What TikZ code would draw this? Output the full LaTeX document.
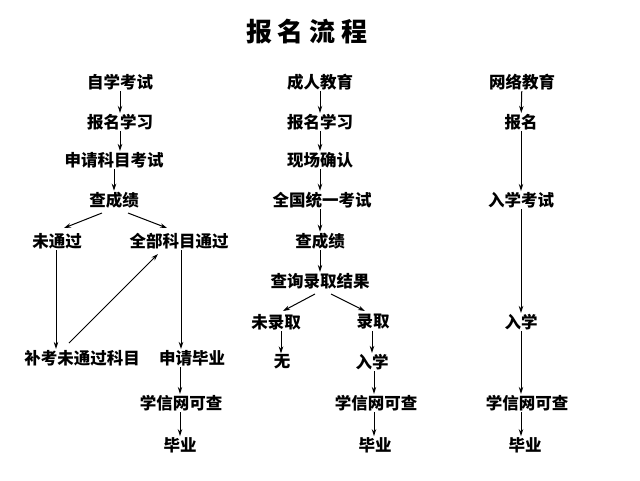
\documentclass[tikz,border=0pt]{standalone}
\usepackage{fontspec}
\setmainfont{Noto Sans CJK SC}[BoldFont={Noto Sans CJK SC Black}]
\usetikzlibrary{arrows.meta}
\begin{document}
\begin{tikzpicture}[x=1pt,y=-1pt,
  t/.style={font=\bfseries\fontsize{16.5}{18}\selectfont,inner sep=1pt},
  ar/.style={draw,line width=1pt,-{Stealth[length=7pt,width=4.5pt]}}]
\useasboundingbox[fill=white] (0,0) rectangle (640,480);
\node[font=\bfseries\fontsize{26}{28}\selectfont] (title) at (307,32) {报\ 名\ 流\ 程};
% column 1
\node[t] (a1) at (120,82) {自学考试};
\node[t] (a2) at (120,122) {报名学习};
\node[t] (a3) at (114,160) {申请科目考试};
\node[t] (a4) at (114,200) {查成绩};
\node[t] (a5) at (57,241) {未通过};
\node[t] (a6) at (179,241) {全部科目通过};
\node[t] (a7) at (82,358) {补考未通过科目};
\node[t] (a8) at (192,358) {申请毕业};
\node[t] (a9) at (181,403) {学信网可查};
\node[t] (a10) at (180,445) {毕业};
\draw[ar] (a1) -- (a2);
\draw[ar] (a2.south -| 120,0) -- (a3.north -| 120,0);
\draw[ar] (a3) -- (a4);
\draw[ar] (102,213) -- (64,228);
\draw[ar] (128,213) -- (167,228);
\draw[ar] (a5.south -| 56,0) -- (a7.north -| 56,0);
\draw[ar] (69,343) -- (158,254);
\draw[ar] (a6.south -| 181,0) -- (a8.north -| 181,0);
\draw[ar] (a8.south -| 180,0) -- (a9.north -| 180,0);
\draw[ar] (a9.south -| 180,0) -- (a10.north -| 180,0);
% column 2
\node[t] (b1) at (320,82) {成人教育};
\node[t] (b2) at (320,122) {报名学习};
\node[t] (b3) at (320,160) {现场确认};
\node[t] (b4) at (322,200) {全国统一考试};
\node[t] (b5) at (320,241) {查成绩};
\node[t] (b6) at (320,281) {查询录取结果};
\node[t] (b7) at (276,322) {未录取};
\node[t] (b8) at (373,322) {录取};
\node[t] (b9) at (282,362) {无};
\node[t] (b10) at (372,362) {入学};
\node[t] (b11) at (376,403) {学信网可查};
\node[t] (b12) at (375,445) {毕业};
\foreach \u/\v in {b1/b2,b2/b3,b3/b4,b4/b5,b5/b6}
  \draw[ar] (\u.south -| 320,0) -- (\v.north -| 320,0);
\draw[ar] (315,294) -- (283,311);
\draw[ar] (331,294) -- (365,311);
\draw[ar] (b7.south -| 281,0) -- (b9.north -| 281,0);
\draw[ar] (b8.south -| 372,0) -- (b10.north -| 372,0);
\draw[ar] (b10.south -| 374,0) -- (b11.north -| 374,0);
\draw[ar] (b11.south -| 374,0) -- (b12.north -| 374,0);
% column 3
\node[t] (c1) at (522,82) {网络教育};
\node[t] (c2) at (521,122) {报名};
\node[t] (c3) at (521,200) {入学考试};
\node[t] (c4) at (521,322) {入学};
\node[t] (c5) at (527,403) {学信网可查};
\node[t] (c6) at (525,445) {毕业};
\draw[ar] (c1) -- (c2);
\draw[ar] (c2) -- (c3);
\draw[ar] (c3) -- (c4);
\draw[ar] (c4.south -| 521,0) -- (c5.north -| 521,0);
\draw[ar] (c5.south -| 521,0) -- (c6.north -| 521,0);
\end{tikzpicture}
\end{document}
